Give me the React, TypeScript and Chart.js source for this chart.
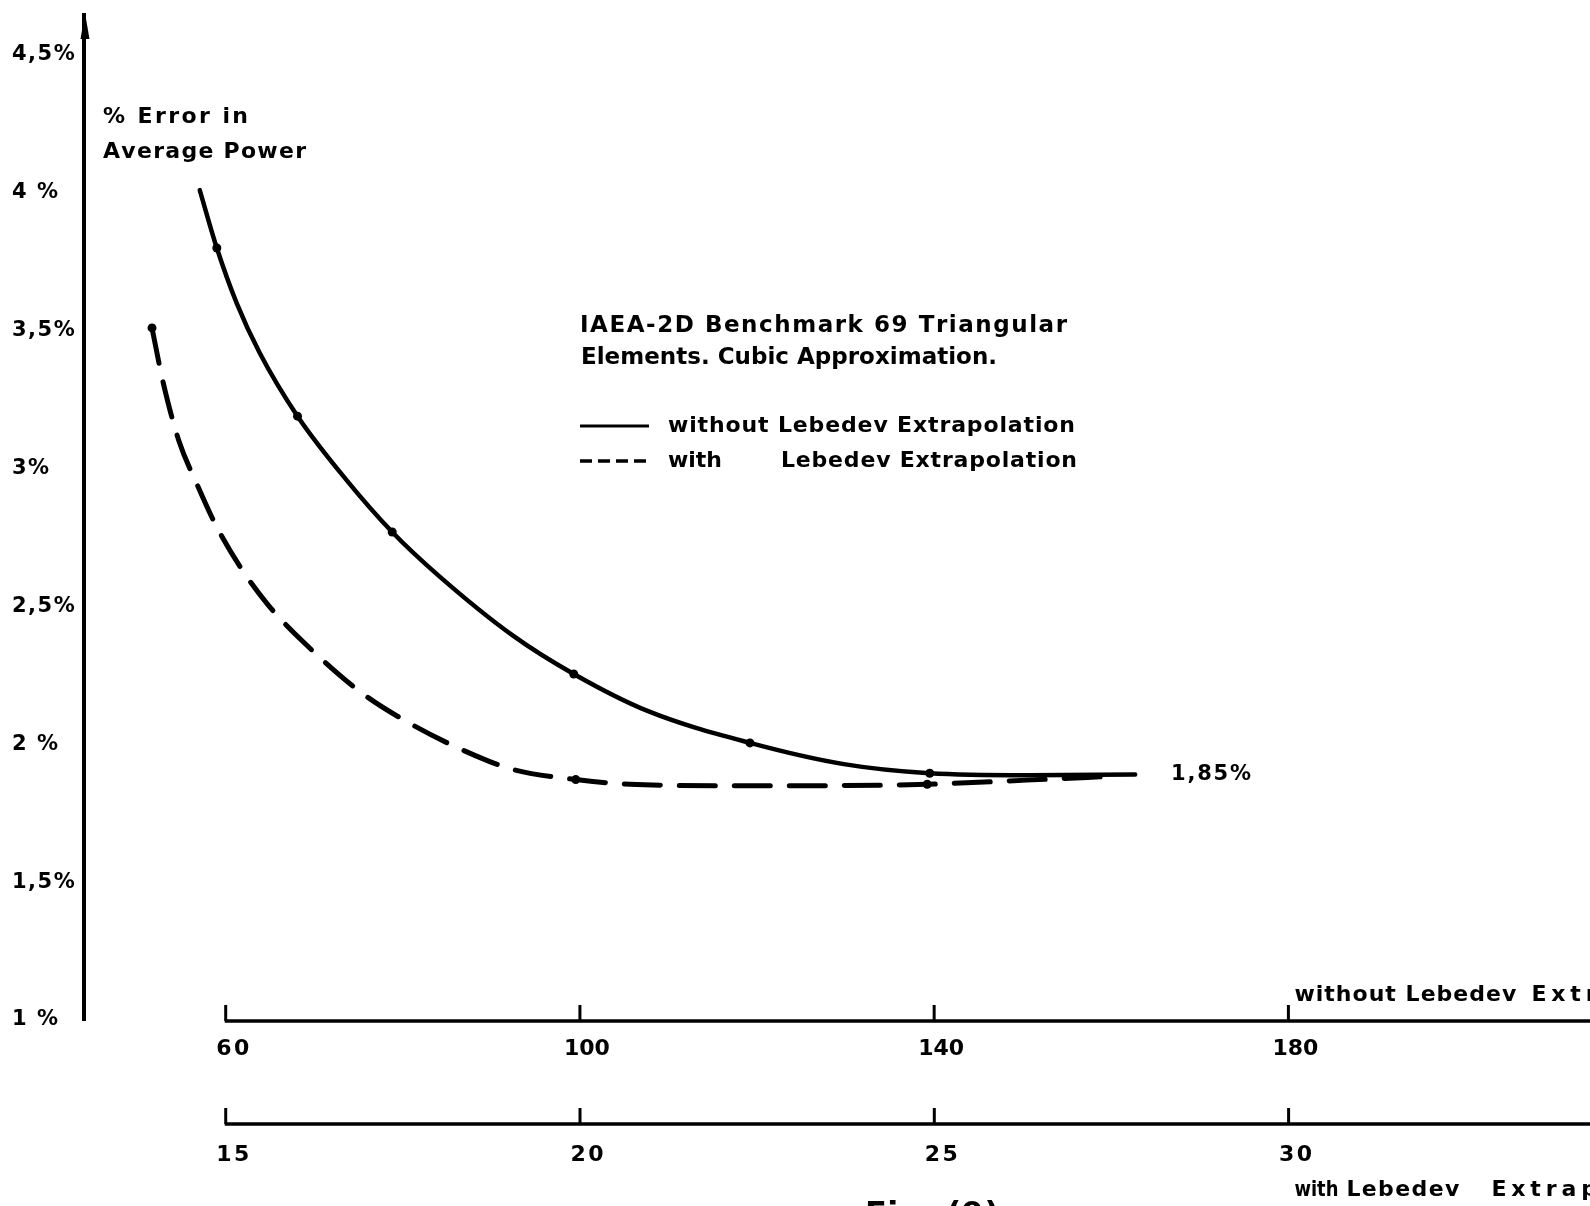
import React, { useEffect, useRef } from 'react';
import { Chart, registerables } from 'chart.js';

Chart.register(...registerables);

// ---- data ----
const yTickValues = [1, 1.5, 2, 2.5, 3, 3.5, 4, 4.5];
const yTickLabels = ['1 %', '1,5%', '2 %', '2,5%', '3%', '3,5%', '4 %', '4,5%'];

const elementTicks = [60, 100, 140, 180];
const elementTickLabels = ['60', '100', '140', '180'];
const lebedevTicks = [15, 20, 25, 30];
const lebedevTickLabels = ['15', '20', '25', '30'];

// without Lebedev extrapolation (x = upper scale, number of elements)
const solidN = [57.07, 59.0, 61.24, 63.83, 68.11, 73.6, 78.8, 84.1, 92.4, 99.3, 107.7, 119.2, 129.8, 139.5, 150.5, 162.7];
const solidErr = [4.01, 3.8, 3.6, 3.42, 3.19, 2.96, 2.77, 2.61, 2.395, 2.255, 2.12, 2.005, 1.928, 1.895, 1.888, 1.89];
const solidMarked = [false, true, false, false, true, false, true, false, false, true, false, true, false, true, false, false];

// with Lebedev extrapolation (x = lower scale)
const dashedM = [13.96, 14.11, 14.34, 14.6, 14.85, 15.2, 15.6, 16.1, 16.9, 17.57, 18.45, 19.05, 19.94, 20.7, 21.9, 23.5, 24.9, 26.3, 27.6];
const dashedErr = [3.51, 3.32, 3.1, 2.94, 2.8, 2.645, 2.505, 2.37, 2.19, 2.08, 1.967, 1.909, 1.872, 1.855, 1.85, 1.85, 1.855, 1.87, 1.885];
const dashedMarked = [true, false, false, false, false, false, false, false, false, false, false, false, true, false, false, false, true, false, false];

const titleLine1 = 'IAEA-2D Benchmark 69 Triangular';
const titleLine2 = 'Elements. Cubic Approximation.';
const legendSolid = 'without Lebedev Extrapolation';
const legendDashedA = 'with';
const legendDashedB = 'Lebedev Extrapolation';
const yTitle1 = '% Error in';
const yTitle2 = 'Average Power';
const endLabel = '1,85%';
const figCaption = 'Fig. (9)';

const FONT = '"DejaVu Sans"';

function fitText(
  ctx: CanvasRenderingContext2D,
  text: string,
  x: number,
  y: number,
  width: number,
  size: number,
  align: 'left' | 'center' = 'left'
) {
  ctx.save();
  ctx.font = `bold ${size}px ${FONT}`;
  (ctx as any).letterSpacing = '0px';
  ctx.fillStyle = '#000';
  ctx.textBaseline = 'middle';
  ctx.textAlign = 'left';
  const chars = Array.from(text);
  const ws = chars.map((c) => ctx.measureText(c).width);
  const total = ws.reduce((a, b) => a + b, 0);
  let gap = chars.length > 1 ? (width - total) / (chars.length - 1) : 0;
  let sx = 1;
  if (gap < 0) {
    gap = 0;
    sx = width / total;
  }
  const x0 = align === 'center' ? x - width / 2 : x;
  ctx.translate(x0, y);
  ctx.scale(sx, 1);
  let cx = 0;
  chars.forEach((c, i) => {
    ctx.fillText(c, cx, 0);
    cx += ws[i] + gap / sx;
  });
  ctx.restore();
}

const decorPlugin = {
  id: 'decor',
  beforeDraw(chart: any) {
    (chart.ctx as any).letterSpacing = '1.5px';
  },
  beforeDatasetsDraw(chart: any) {
    (chart.ctx as any).letterSpacing = '0px';
  },
  afterDraw(chart: any) {
    const ctx: CanvasRenderingContext2D = chart.ctx;
    const xs = chart.scales.x;
    const xm = chart.scales.xM;
    const area = chart.chartArea;
    const W = chart.width;

    ctx.save();
    ctx.fillStyle = '#000';
    ctx.strokeStyle = '#000';

    // arrow on y axis
    const ax = area.left + 1;
    ctx.beginPath();
    ctx.moveTo(ax, area.top - 2);
    ctx.lineTo(ax + 4.5, area.top + 24);
    ctx.lineTo(ax - 4.5, area.top + 24);
    ctx.closePath();
    ctx.fill();

    // y title
    fitText(ctx, yTitle1, 103, 117, 145, 22);
    fitText(ctx, yTitle2, 103, 152, 203, 22);

    // title / legend block
    fitText(ctx, titleLine1, 580, 326, 487, 23);
    fitText(ctx, titleLine2, 581, 358, 416, 23);
    ctx.lineWidth = 3;
    ctx.setLineDash([]);
    ctx.beginPath();
    ctx.moveTo(580, 426);
    ctx.lineTo(649, 426);
    ctx.stroke();
    fitText(ctx, legendSolid, 668, 426, 407, 22);
    ctx.lineWidth = 3.5;
    ctx.setLineDash([12, 6]);
    ctx.beginPath();
    ctx.moveTo(580, 461);
    ctx.lineTo(649, 461);
    ctx.stroke();
    ctx.setLineDash([]);
    fitText(ctx, legendDashedA, 668, 461, 54, 22);
    fitText(ctx, legendDashedB, 781, 461, 296, 22);

    // end label
    fitText(ctx, endLabel, 1171, 775, 80, 21);

    // x axes
    const y1 = area.bottom + 1;
    const y2 = y1 + 103;
    const drawAxis = (scale: any, ticks: number[], labels: string[], yy: number, labelDy: number) => {
      const x0 = scale.getPixelForValue(ticks[0]);
      ctx.lineWidth = 3.5;
      ctx.beginPath();
      ctx.moveTo(x0 - 1, yy);
      ctx.lineTo(W, yy);
      ctx.stroke();
      ticks.forEach((v, i) => {
        const px = scale.getPixelForValue(v);
        ctx.lineWidth = 3;
        ctx.beginPath();
        ctx.moveTo(px, yy);
        ctx.lineTo(px, yy - 16);
        ctx.stroke();
        const lab = labels[i];
        const w = lab.length === 3 ? 46 : 33;
        fitText(ctx, lab, px + 7, yy + labelDy, w, 22, 'center');
      });
    };
    drawAxis(xs, elementTicks, elementTickLabels, y1, 28);
    drawAxis(xm, lebedevTicks, lebedevTickLabels, y2, 31);

    // axis captions
    const cx = xs.getPixelForValue(elementTicks[elementTicks.length - 1]) + 6;
    fitText(ctx, 'without Lebedev', cx, y1 - 26, 222, 22);
    fitText(ctx, 'Extrapolation', cx + 237, y1 - 26, 226, 22);
    fitText(ctx, 'with', cx, y2 + 66, 44, 22);
    fitText(ctx, 'Lebedev', cx + 52, y2 + 66, 113, 22);
    fitText(ctx, 'Extrapolation', cx + 197, y2 + 66, 226, 22);

    // figure caption (cut by page edge)
    fitText(ctx, figCaption, 865, 1216, 134, 32);

    ctx.restore();
  },
};

export default function App() {
  const ref = useRef<HTMLCanvasElement | null>(null);

  useEffect(() => {
    document.body.style.margin = '0';
    document.body.style.overflow = 'hidden';
    const canvas = ref.current;
    if (!canvas) return;

    const chart = new Chart(canvas, {
      type: 'scatter',
      data: {
        datasets: [
          {
            label: legendSolid,
            xAxisID: 'x',
            data: solidN.map((n, i) => ({ x: n, y: solidErr[i] })),
            showLine: true,
            borderColor: '#000',
            backgroundColor: '#000',
            borderWidth: 4.5,
            borderCapStyle: 'round',
            borderJoinStyle: 'round',
            cubicInterpolationMode: 'monotone',
            pointRadius: solidMarked.map((m) => (m ? 4.5 : 0)),
            pointBorderWidth: 0,
            pointBackgroundColor: '#000',
          } as any,
          {
            label: legendDashedA + ' ' + legendDashedB,
            xAxisID: 'xM',
            data: dashedM.map((m, i) => ({ x: m, y: dashedErr[i] })),
            showLine: true,
            borderColor: '#000',
            backgroundColor: '#000',
            borderWidth: 5,
            borderDash: [36, 19],
            borderCapStyle: 'round',
            cubicInterpolationMode: 'monotone',
            pointRadius: dashedMarked.map((m) => (m ? 4.5 : 0)),
            pointBorderWidth: 0,
            pointBackgroundColor: '#000',
          } as any,
        ],
      },
      options: {
        animation: false,
        responsive: true,
        maintainAspectRatio: false,
        devicePixelRatio: 1,
        layout: { padding: { left: 12, top: 15, right: 0, bottom: 186 } },
        plugins: {
          legend: { display: false },
          tooltip: { enabled: false },
        },
        scales: {
          x: { type: 'linear', min: 44.0, max: 213.55, display: false },
          xM: { type: 'linear', min: 13.0, max: 34.19, display: false },
          y: {
            type: 'linear',
            position: 'left',
            min: 1,
            max: 4.645,
            afterFit: (s: any) => {
              s.width = 72;
            },
            afterBuildTicks: (s: any) => {
              s.ticks = yTickValues.map((v) => ({ value: v }));
            },
            grid: { display: false },
            border: { display: true, color: '#000', width: 4 },
            ticks: {
              autoSkip: false,
              crossAlign: 'far',
              padding: 0,
              color: '#000',
              font: { family: 'DejaVu Sans', size: 21, weight: 'bold' },
              callback: (v: any) => {
                const i = yTickValues.indexOf(Number(v));
                return i >= 0 ? yTickLabels[i] : '';
              },
            },
          },
        },
      } as any,
      plugins: [decorPlugin],
    });

    return () => chart.destroy();
  }, []);

  return (
    <div style={{ width: 1590, height: 1206, position: 'relative', background: '#fff' }}>
      <canvas ref={ref} />
    </div>
  );
}
